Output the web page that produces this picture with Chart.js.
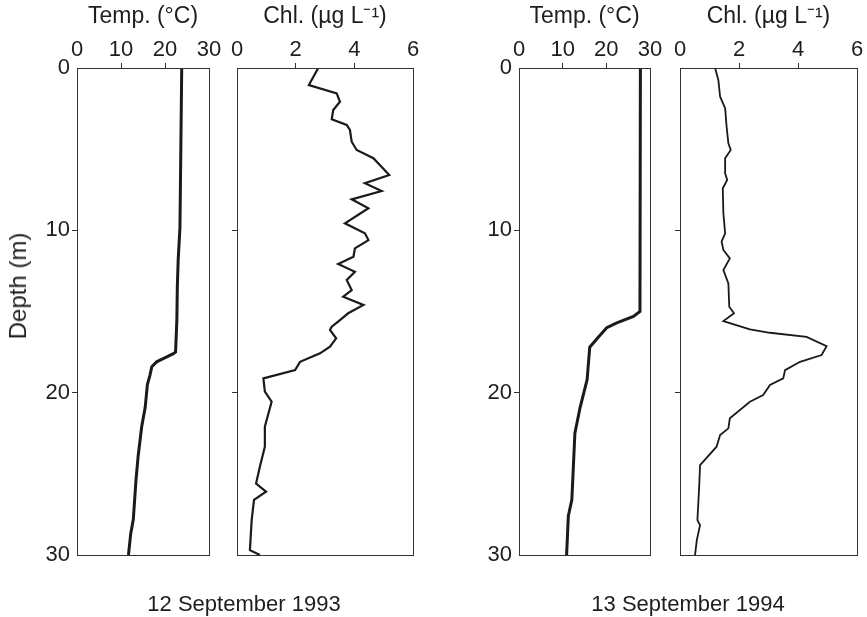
<!DOCTYPE html>
<html>
<head>
<meta charset="utf-8">
<script src="https://cdn.jsdelivr.net/npm/chart.js@4"></script>
<style>
body { margin: 0; background: #fff; }
#wrap { position: relative; width: 867px; height: 617px; overflow: hidden; font-family: "Liberation Sans", Arial, sans-serif; color: #1e1e1e; }
.box { position: absolute; top: 0; height: 617px; }
.date { position: absolute; top: 591px; font-size: 22px; white-space: nowrap; transform: translateX(-50%); }
#depth { position: absolute; left: 18px; top: 286px; font-size: 24px; white-space: nowrap; transform: translate(-50%, -50%) rotate(-90deg); }
</style>
</head>
<body>
<div id="wrap">
  <div class="box" style="left:0;width:228px"><canvas id="c1"></canvas></div>
  <div class="box" style="left:228px;width:202px"><canvas id="c2"></canvas></div>
  <div class="box" style="left:430px;width:238px"><canvas id="c3"></canvas></div>
  <div class="box" style="left:668px;width:199px"><canvas id="c4"></canvas></div>
  <div id="depth">Depth (m)</div>
  <div class="date" style="left:244px">12 September 1993</div>
  <div class="date" style="left:688px">13 September 1994</div>
</div>
<script>
// tick labels
const depthTicks = [0, 10, 20, 30];
const tempTicks = [0, 10, 20, 30];
const chlTicks = [0, 2, 4, 6];

// 12 September 1993 - temperature
const depth93T = [0, 9.8, 11.8, 13.5, 15.5, 17.5, 17.6, 17.9, 18.1, 18.4, 18.9, 19.5, 20.9, 22.1, 23.9, 25.4, 27.8, 28.7, 30];
const temp93 = [23.8, 23.4, 23.0, 22.8, 22.7, 22.4, 21.9, 19.6, 18.1, 17.0, 16.6, 16.0, 15.5, 14.7, 13.9, 13.4, 12.8, 12.2, 11.7];

// 12 September 1993 - chlorophyll
const depth93C = [0, 1.05, 1.56, 2.08, 2.59, 3.16, 3.51, 3.82, 4.54, 5.05, 5.56, 6.59, 7.10, 7.58, 8.09, 8.64, 9.57, 10.18, 10.6, 11.11,
  11.63, 12.08, 12.55, 13.06, 13.68, 14.09, 14.6, 15.11, 15.53, 15.94, 16.14, 16.65, 17.17, 17.58, 18.1, 18.61, 19.12, 19.94, 20.56,
  22.1, 23.33, 24.57, 25.6, 26.1, 26.6, 27.85, 29.7, 30];
const chl93 = [2.77, 2.45, 3.40, 3.51, 3.28, 3.23, 3.74, 3.85, 3.91, 4.08, 4.65, 5.19, 4.36, 4.93, 3.91, 4.48, 3.68, 4.36, 4.48, 4.02,
  3.97, 3.45, 4.02, 3.74, 3.91, 3.62, 4.31, 3.79, 3.51, 3.23, 3.17, 3.38, 3.17, 2.83, 2.15, 1.98, 0.90, 0.95, 1.18,
  0.95, 0.95, 0.78, 0.65, 0.99, 0.58, 0.50, 0.44, 0.78];

// 13 September 1994 - temperature
const depth94T = [0, 15.0, 15.3, 15.7, 16.0, 16.6, 17.2, 19.2, 20.9, 22.5, 26.6, 27.6, 30];
const temp94 = [27.8, 27.7, 26.2, 22.4, 20.1, 18.1, 16.2, 15.6, 14.0, 12.8, 12.1, 11.3, 10.9];

// 13 September 1994 - chlorophyll
const depth94C = [0, 0.74, 1.77, 2.48, 3.62, 4.64, 5.05, 5.56, 6.49, 6.9, 7.41, 8.95, 10.18, 10.7, 11.21, 11.73, 12.45, 13.27, 14.71,
  15.11, 15.59, 16.1, 16.31, 16.56, 17.13, 17.68, 18.1, 18.61, 19.12, 19.53, 20.15, 20.56, 21.58, 22.2, 22.61, 23.33, 24.46,
  25.8, 27.85, 28.16, 29.08, 30];
const chl94 = [1.19, 1.30, 1.36, 1.53, 1.58, 1.64, 1.72, 1.53, 1.53, 1.60, 1.45, 1.47, 1.53, 1.41, 1.47, 1.69, 1.47, 1.64, 1.67,
  1.83, 1.47, 2.37, 3.05, 4.29, 4.97, 4.80, 4.07, 3.56, 3.50, 3.05, 2.82, 2.37, 1.69, 1.64, 1.36, 1.24, 0.68,
  0.65, 0.59, 0.68, 0.57, 0.51];

const ink = '#1e1e1e';
const font = { family: '"Liberation Sans", Arial, sans-serif', size: 22, lineHeight: 1 };
const titleFont = { family: '"Liberation Sans", Arial, sans-serif', size: 23 };

// box around each plot area
const frame = {
  id: 'frame',
  afterDatasetsDraw(chart) {
    const { ctx, chartArea: a } = chart;
    ctx.save();
    ctx.strokeStyle = '#333';
    ctx.lineWidth = 1;
    ctx.strokeRect(Math.round(a.left) + 0.5, Math.round(a.top) + 0.5, Math.round(a.right - a.left), Math.round(a.bottom - a.top));
    ctx.restore();
  }
};

function tickColor(max) {
  return c => (c.tick && (c.tick.value === 0 || c.tick.value === max)) ? 'rgba(0,0,0,0)' : '#333';
}

function profile(id, xs, depths, p) {
  const points = xs.map((v, i) => ({ x: v, y: depths[i] }));
  return new Chart(document.getElementById(id), {
    type: 'scatter',
    data: {
      datasets: [{
        data: points,
        showLine: true,
        borderColor: '#1a1a1a',
        borderWidth: p.lineWidth,
        pointRadius: 0,
        tension: 0
      }]
    },
    options: {
      responsive: true,
      maintainAspectRatio: false,
      animation: false,
      layout: { autoPadding: false, padding: { top: 0, left: 0, right: p.padRight, bottom: 62 } },
      plugins: { legend: { display: false }, tooltip: { enabled: false } },
      scales: {
        x: {
          type: 'linear',
          position: 'top',
          min: 0,
          max: p.max,
          afterBuildTicks: s => { s.ticks = p.ticks.map(v => ({ value: v })); },
          afterFit: s => { s.height = 68; s.paddingLeft = 0; s.paddingRight = 0; },
          ticks: { font: font, color: ink, padding: 2, maxRotation: 0 },
          grid: { drawOnChartArea: false, tickLength: 5, color: tickColor(p.max) },
          border: { display: false },
          title: { display: true, text: p.title, font: titleFont, color: ink, padding: { top: 3, bottom: 0 } }
        },
        y: {
          type: 'linear',
          reverse: true,
          min: 0,
          max: 30,
          afterBuildTicks: s => { s.ticks = depthTicks.map(v => ({ value: v })); },
          afterFit: s => { s.width = p.yWidth; s.paddingTop = 0; s.paddingBottom = 0; },
          ticks: { display: p.yLabels, font: font, color: ink, padding: 2 },
          grid: { drawOnChartArea: false, tickLength: 5, color: tickColor(30) },
          border: { display: false }
        }
      }
    },
    plugins: [frame]
  });
}

profile('c1', temp93, depth93T, { title: 'Temp. (°C)', ticks: tempTicks, max: 30, yWidth: 77, padRight: 19, yLabels: true, lineWidth: 3 });
profile('c2', chl93, depth93C, { title: 'Chl. (µg L⁻¹)', ticks: chlTicks, max: 6, yWidth: 9, padRight: 17, yLabels: false, lineWidth: 2.2 });
profile('c3', temp94, depth94T, { title: 'Temp. (°C)', ticks: tempTicks, max: 30, yWidth: 89, padRight: 18, yLabels: true, lineWidth: 3 });
profile('c4', chl94, depth94C, { title: 'Chl. (µg L⁻¹)', ticks: chlTicks, max: 6, yWidth: 12, padRight: 10, yLabels: false, lineWidth: 1.8 });
</script>
</body>
</html>
